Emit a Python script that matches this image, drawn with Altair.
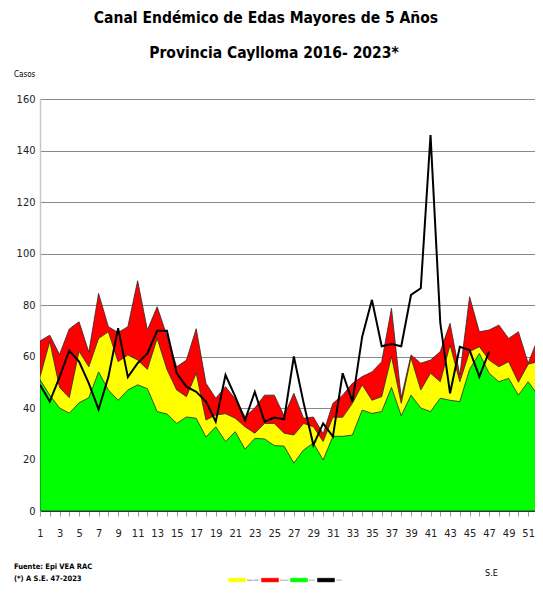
import altair as alt
import pandas as pd

# ---- data ----
weeks = list(range(1, 53))
exito = [51, 45, 40, 38, 42, 44, 54, 47, 43, 47, 49, 47.5, 38.6, 37.7, 34, 36.5, 36, 28.7,
         32.7, 27, 30.8, 24, 28.2, 28, 25.4, 25.2, 18.6, 23.7, 26.4, 19.8, 29, 29, 29.5, 39.2,
         37.9, 38.6, 48, 37, 45, 40, 38.6, 43.8, 43, 42.5, 55, 61.2, 53.5, 50.2, 51.5, 45,
         50.2, 45]
seguridad = [52, 65.8, 48, 44, 62, 56, 67, 69.6, 58, 60.6, 58.6, 55, 67, 55, 47, 44.4, 53.5,
             35.3, 37.3, 37.8, 36, 32.7, 30.2, 34, 34, 30.2, 29.5, 34, 32.7, 27, 36.4, 36.4,
             41.8, 49, 43, 44.4, 60, 41.8, 59.5, 47, 53.5, 50.2, 64.5, 50.2, 61.9, 63.8, 58.6,
             56, 58, 50, 57, 58]
alarma = [66, 68.3, 60.8, 70.7, 73.5, 61.7, 84.5, 71.6, 69.3, 71.6, 89.4, 70.3, 79.3, 68, 56,
          58.6, 70.8, 49.6, 43.8, 48.3, 43.5, 36.6, 40, 45, 45, 37, 45.7, 36, 36.5, 30, 41.8,
          45, 49.6, 52.2, 54, 58, 78.7, 44, 60.6, 57.4, 58.6, 61.9, 72.9, 52.8, 83.2, 69.6, 70.3,
          72.2, 67, 69.6, 57.4, 67]
casos_2023 = [49, 42.5, 52, 62.3, 58, 49.6, 39.5, 52, 71, 52, 57.4, 61.2, 70, 70, 53.5, 48.3,
              46.3, 42.5, 34.7, 52.8, 44.4, 35.3, 46.3, 34.7, 36.3, 35.6, 60, 42, 25.6, 34, 28.9,
              53.5, 42.5, 67.7, 82, 64, 64.8, 64, 83.9, 86.5, 146, 73, 45.7, 63.8, 62.5, 52.2, 61.9]

series_names = ["Seguridad", "Alarma", "Éxito", "2023"]
series_colors = ["#FFFF00", "#FF0000", "#00FF00", "#000000"]
y_ticks = [0, 20, 40, 60, 80, 100, 120, 140, 160]

title_lines = ["Canal Endémico de Edas Mayores de 5 Años", "Provincia Caylloma 2016- 2023*"]
y_unit = "Casos"
x_unit = "S.E"
fuente = "Fuente: Epi VEA RAC"
nota = "(*) A S.E. 47-2023"

df = pd.DataFrame({"semana": weeks, "exito": exito, "seguridad": seguridad, "alarma": alarma})
df_line = pd.DataFrame({"semana": weeks[:len(casos_2023)], "casos": casos_2023})

FONT = "Liberation Sans Narrow, Arial Narrow, DejaVu Sans Condensed, sans-serif"

x_scale = alt.Scale(domain=[1, 51.7], nice=False, zero=False)
y_scale = alt.Scale(domain=[0, 160], nice=False)
color_scale = alt.Scale(domain=series_names, range=series_colors)

x_axis = alt.Axis(values=weeks[:51], labelExpr="datum.value % 2 == 1 ? datum.label : ''",
                  title=None, grid=False, domainColor="#333", domainWidth=1,
                  tickColor="#999", tickSize=5, labelFontSize=11, labelFont=FONT,
                  labelPadding=11, labelColor="#222", labelFlush=False)
y_axis = alt.Axis(values=y_ticks, title=None, grid=True, gridColor="#888", gridWidth=1,
                  domainColor="#c8c8c8", domainWidth=1.5, tickSize=0, labelPadding=5,
                  labelFontSize=11, labelFont=FONT, labelColor="#222")

legend = alt.Legend(orient="none", legendX=188, legendY=472, direction="horizontal",
                    title=None, symbolType="M-1,-0.22H1V0.22H-1Z", symbolSize=289,
                    symbolStrokeColor="#333", symbolStrokeWidth=0.5,
                    labelFontSize=2.5, labelFont=FONT, labelColor="#555",
                    columnPadding=1, labelOffset=1, symbolOpacity=1)

color_enc = alt.Color("serie:N", scale=color_scale, legend=legend)


def area_layer(field, name):
    return alt.Chart(df).transform_calculate(serie=f"'{name}'").mark_area(
        clip=True, stroke="#2a2a2a", strokeWidth=0.8, opacity=1, interpolate="linear").encode(
        x=alt.X("semana:Q", scale=x_scale, axis=x_axis),
        y=alt.Y(f"{field}:Q", scale=y_scale, axis=y_axis, stack=None),
        color=color_enc,
    )


red = area_layer("alarma", "Alarma")
yellow = area_layer("seguridad", "Seguridad")
green = area_layer("exito", "Éxito")

line = alt.Chart(df_line).transform_calculate(serie="'2023'").mark_line(
    clip=True, strokeWidth=2).encode(
    x=alt.X("semana:Q", scale=x_scale, axis=x_axis),
    y=alt.Y("casos:Q", scale=y_scale, axis=y_axis),
    color=color_enc,
)


def text_layer(txt, x, y, size, bold=False, align="left"):
    return alt.Chart(pd.DataFrame({"t": [txt]})).mark_text(
        font=FONT, fontSize=size, fontWeight="bold" if bold else "normal",
        align=align, baseline="middle", color="#000").encode(
        x=alt.value(x), y=alt.value(y), text="t:N")


t1 = text_layer(title_lines[0], 226, -81, 15.5, bold=True, align="center")
t2 = text_layer(title_lines[1], 234, -46, 15.5, bold=True, align="center")
casos_lbl = text_layer(y_unit, -26, -24, 8)
fuente_lbl = text_layer(fuente, -26, 468, 7.5, bold=True)
nota_lbl = text_layer(nota, -26, 480, 7.5, bold=True)
se_lbl = text_layer(x_unit, 445, 474, 9)

chart = alt.layer(red, yellow, green, line, t1, t2, casos_lbl, fuente_lbl, nota_lbl, se_lbl).properties(
    width=495, height=412,
    autosize=alt.AutoSizeParams(type="none"),
    padding={"left": 32, "top": 91, "right": 0, "bottom": 73},
    background="white",
).configure_view(stroke=None)

chart.save("out.html", embed_options={"renderer": "svg", "actions": False})
